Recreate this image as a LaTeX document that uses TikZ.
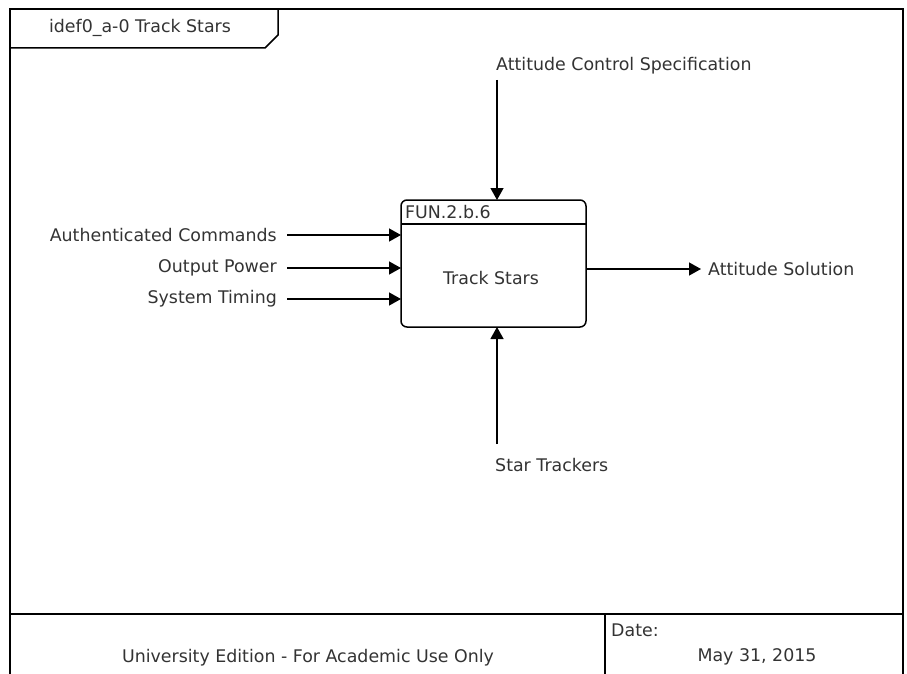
\documentclass[tikz,border=0pt]{standalone}
\usepackage{fontspec}
\setmainfont{DejaVu Sans}
\usetikzlibrary{arrows.meta}
\begin{document}
\begin{tikzpicture}[x=1pt,y=-1pt,
  lbl/.style={inner sep=0pt, font=\fontsize{17.4}{20}\selectfont, text=black!80},
  flow/.style={line width=1.3pt, -{Triangle[length=12pt,width=13pt]}},
  frame/.style={line width=2.2pt},
]
\useasboundingbox (0,0) rectangle (907,674);
% outer frame
\draw[frame] (10,674) -- (10,9) -- (903,9) -- (903,674);
% title tab
\draw[line width=1.5pt] (10,48) -- (265,48) -- (278,35) -- (278,9);
\node[lbl] (title) at (140,28) {idef0\_a-0 Track Stars};
% footer
\draw[frame] (10,614) -- (903,614);
\draw[frame] (605,614) -- (605,674);
\node[lbl, anchor=west] (datel) at (611,630) {Date:};
\node[lbl] (date) at (757,657) {May 31, 2015};
\node[lbl] (univ) at (308,658) {University Edition - For Academic Use Only};
% function box
\draw[line width=1.5pt, rounded corners=6pt] (401,200) rectangle (586,327);
\coordinate (boxtop) at (497,200);
\coordinate (boxbot) at (497,327);
\draw[line width=1.5pt] (401,224) -- (586,224);
\node[lbl, anchor=west] (id) at (405,212) {FUN.2.b.6};
\node[lbl] (fn) at (491,278) {Track Stars};
% control
\node[lbl, anchor=west] (ctl) at (496,66) {Attitude Control Specification};
\coordinate (ctls) at (497,80);
\draw[flow] (ctls) -- (boxtop);
% inputs
\node[lbl, anchor=east] (in1) at (277,235) {Authenticated Commands};
\node[lbl, anchor=east] (in2) at (277,268) {Output Power};
\node[lbl, anchor=east] (in3) at (277,299) {System Timing};
\coordinate (i1s) at (287,235); \coordinate (i1e) at (401,235);
\coordinate (i2s) at (287,268); \coordinate (i2e) at (401,268);
\coordinate (i3s) at (287,299); \coordinate (i3e) at (401,299);
\draw[flow] (i1s) -- (i1e);
\draw[flow] (i2s) -- (i2e);
\draw[flow] (i3s) -- (i3e);
% output
\coordinate (os) at (586,269); \coordinate (oe) at (701,269);
\draw[flow] (os) -- (oe);
\node[lbl, anchor=west] (out) at (708,269) {Attitude Solution};
% mechanism
\coordinate (ms) at (497,444);
\draw[flow] (ms) -- (boxbot);
\node[lbl, anchor=west] (mech) at (495,465) {Star Trackers};
\end{tikzpicture}
\end{document}
